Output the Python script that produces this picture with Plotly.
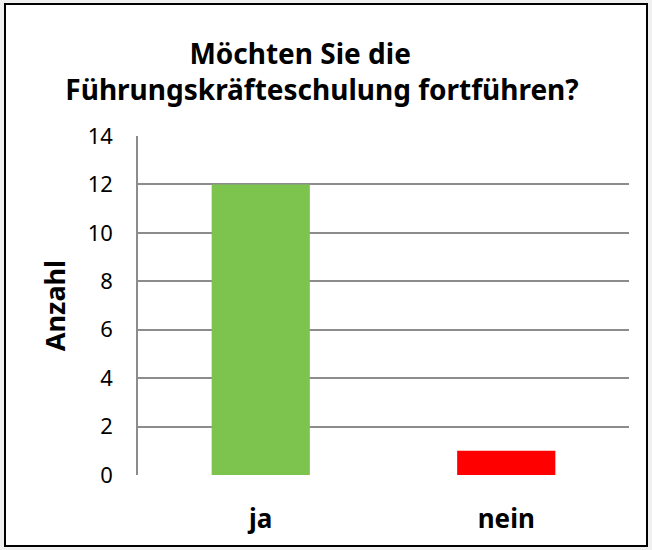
import plotly.graph_objects as go

categories = ["ja", "nein"]
values = [12, 1]
bar_colors = ["#7DC44F", "#FF0000"]
y_ticks = [0, 2, 4, 6, 8, 10, 12, 14]
title_lines = ["Möchten Sie die" + "&nbsp;" * 6, "Führungskräfteschulung fortführen?"]
y_title = "Anzahl"

W, H = 652, 550
L, R, T, B = 138, 23, 136, 75
pw, ph = W - L - R, H - T - B

def px_x(x):
    return (x - L) / pw

def px_y(y):
    return (H - B - y) / ph

font_family = "Noto Sans, Open Sans, DejaVu Sans, sans-serif"

fig = go.Figure()
fig.add_trace(go.Bar(
    x=categories, y=values, marker=dict(color=bar_colors, line=dict(width=0)),
    width=0.4, showlegend=False,
))

fig.update_layout(
    width=W, height=H,
    margin=dict(l=L, r=R, t=T, b=B),
    paper_bgcolor="#F0F0F0",
    plot_bgcolor="rgba(0,0,0,0)",
    font=dict(family=font_family, color="#000000"),
    title=dict(
        text="<br>".join(title_lines),
        x=322 / W, xref="container", xanchor="center",
        y=1 - 64 / H, yref="container", yanchor="middle",
        font=dict(size=28, family=font_family, weight="bold", color="#000000"),
    ),
    xaxis=dict(
        showgrid=False, showline=False, zeroline=False, ticks="",
        tickfont=dict(size=26, family=font_family, weight="bold"),
        ticklabelstandoff=26,
    ),
    yaxis=dict(
        range=[0, 14], tickvals=y_ticks, showgrid=True, gridcolor="#8C8C8C", gridwidth=1.5,
        showline=True, linecolor="#8C8C8C", linewidth=1.5, zeroline=False, ticks="",
        tickfont=dict(size=22, family=font_family),
        ticklabelstandoff=19,
        title=dict(text=y_title, font=dict(size=27, family=font_family, weight="bold"), standoff=14),
    ),
    shapes=[dict(
        type="rect", xref="paper", yref="paper",
        x0=px_x(5), x1=px_x(647), y0=px_y(546), y1=px_y(4),
        line=dict(color="#000000", width=2), fillcolor="#FFFFFF", layer="below",
    )],
)

fig.write_html("out.html", config={"displayModeBar": False},
               post_script="document.body.style.margin='0';document.body.style.overflow='hidden';")
